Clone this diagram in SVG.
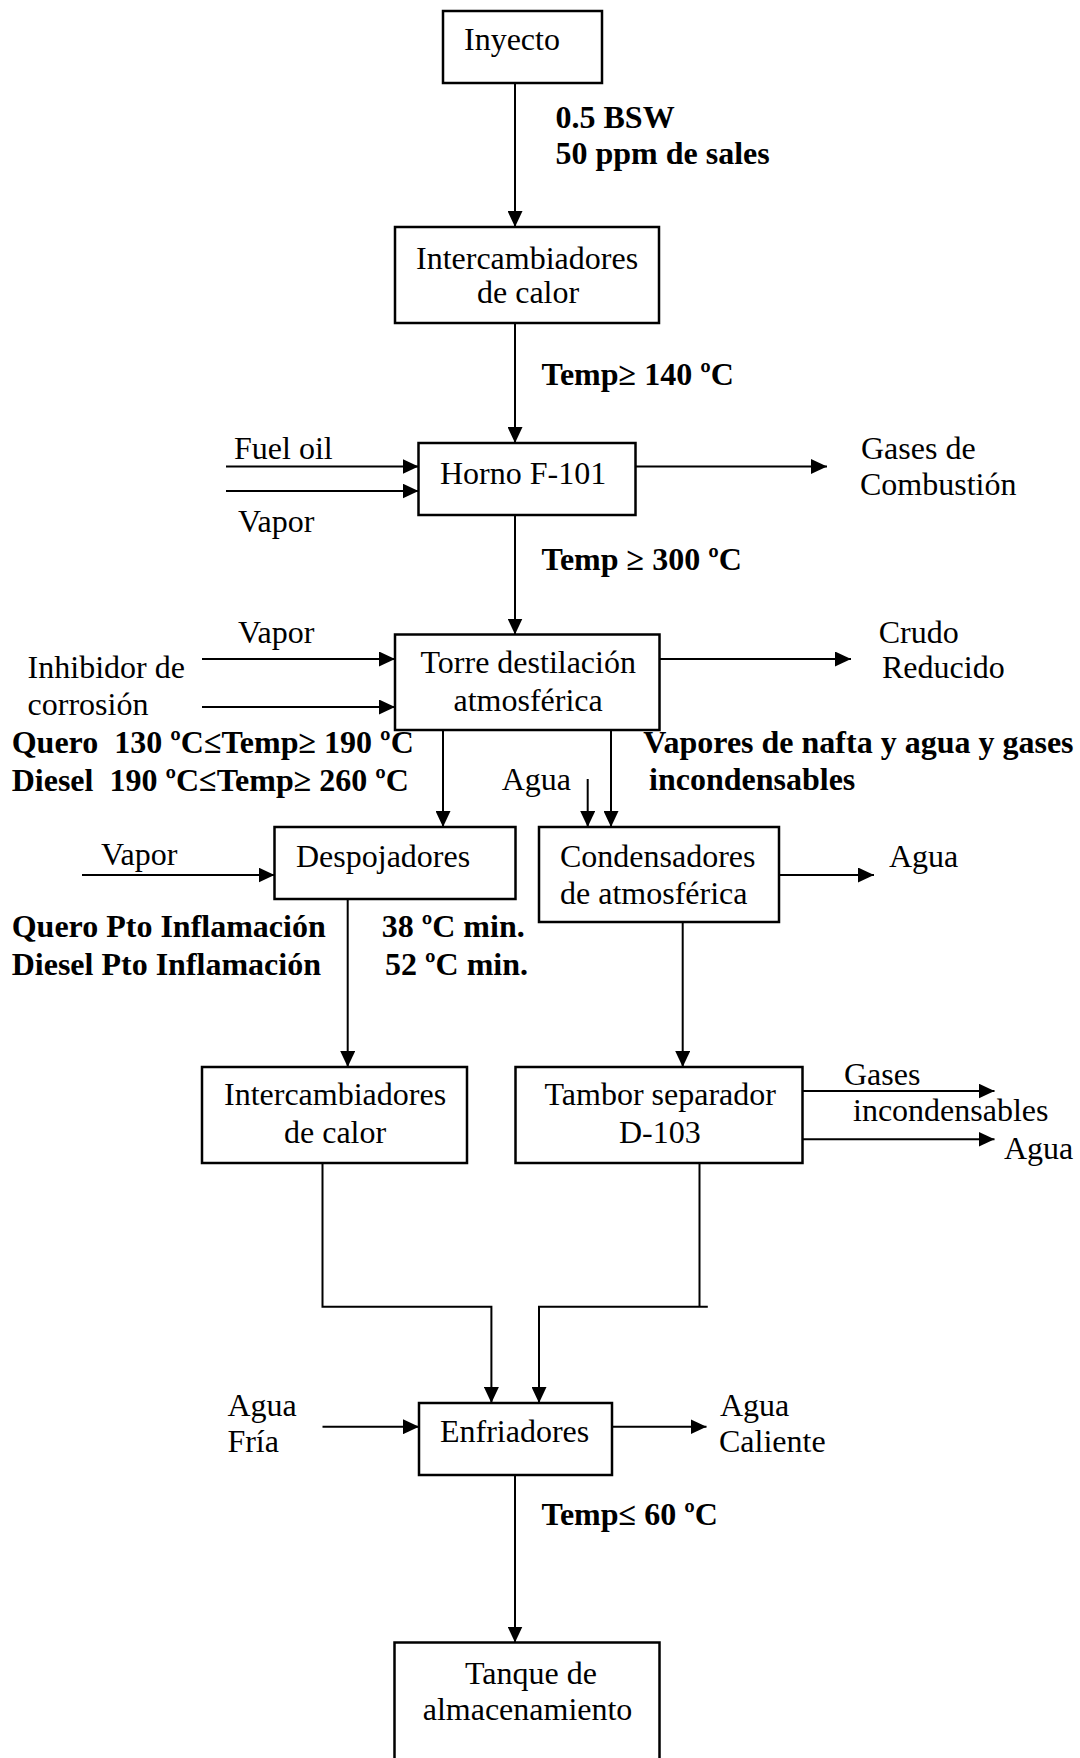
<svg xmlns="http://www.w3.org/2000/svg" width="1080" height="1758" viewBox="0 0 1080 1758">
  <defs>
    <marker id="arrow" markerUnits="userSpaceOnUse" markerWidth="16" markerHeight="15" refX="16" refY="7.5" orient="auto">
      <path d="M0,0 L16,7.5 L0,15 z" fill="#000"/>
    </marker>
    <style>
      .box { fill: #fff; stroke: #000; stroke-width: 2.5; }
      .flow { fill: none; stroke: #000; stroke-width: 2; }
      .arr { fill: none; stroke: #000; stroke-width: 2; marker-end: url(#arrow); }
      text { font-family: "Liberation Serif", "Times New Roman", serif; fill: #000; white-space: pre; }
      .t { font-size: 32px; }
      .b { font-size: 32px; font-weight: bold; }
    </style>
  </defs>
  <rect width="1080" height="1758" fill="#fff"/>

  <!-- connectors -->
  <g id="connectors">
    <line class="arr" x1="515" y1="83" x2="515" y2="227"/>
    <line class="arr" x1="515" y1="323" x2="515" y2="443"/>
    <line class="arr" x1="226" y1="466.5" x2="418.5" y2="466.5"/>
    <line class="arr" x1="226" y1="491" x2="418.5" y2="491"/>
    <line class="arr" x1="635.5" y1="466.5" x2="827" y2="466.5"/>
    <line class="arr" x1="515" y1="515" x2="515" y2="634.5"/>
    <line class="arr" x1="202" y1="659" x2="395" y2="659"/>
    <line class="arr" x1="202" y1="707" x2="395" y2="707"/>
    <line class="arr" x1="659.5" y1="659" x2="851" y2="659"/>
    <line class="arr" x1="443" y1="730" x2="443" y2="827"/>
    <line class="arr" x1="587.7" y1="779" x2="587.7" y2="827"/>
    <line class="arr" x1="611" y1="730" x2="611" y2="827"/>
    <line class="arr" x1="82" y1="875" x2="274.5" y2="875"/>
    <line class="arr" x1="779" y1="875" x2="874" y2="875"/>
    <line class="arr" x1="347.7" y1="899" x2="347.7" y2="1067"/>
    <line class="arr" x1="682.7" y1="922" x2="682.7" y2="1067"/>
    <line class="arr" x1="802.5" y1="1091" x2="994.5" y2="1091"/>
    <line class="arr" x1="802.5" y1="1139.3" x2="994.5" y2="1139.3"/>
    <path class="arr" d="M322.5,1163 V1306.7 H491.4 V1403"/>
    <path class="flow" d="M699.5,1163 V1306.7"/>
    <path class="arr" d="M707.8,1306.7 H539 V1403"/>
    <line class="arr" x1="322.5" y1="1426.7" x2="419" y2="1426.7"/>
    <line class="arr" x1="612" y1="1426.7" x2="706.5" y2="1426.7"/>
    <line class="arr" x1="515" y1="1475" x2="515" y2="1642.5"/>
  </g>

  <!-- process units -->
  <g id="inyecto">
    <rect class="box" x="443" y="11" width="159" height="72"/>
    <text class="t" x="464" y="50">Inyecto</text>
  </g>
  <g id="intercambiadores-1">
    <rect class="box" x="395" y="227" width="264" height="96"/>
    <text class="t" x="416" y="269">Intercambiadores</text>
    <text class="t" x="477" y="303">de calor</text>
  </g>
  <g id="horno">
    <rect class="box" x="418.5" y="443" width="217" height="72"/>
    <text class="t" x="440" y="484">Horno F-101</text>
  </g>
  <g id="torre">
    <rect class="box" x="395" y="634.5" width="264.5" height="95.5"/>
    <text class="t" x="420.5" y="673">Torre destilación</text>
    <text class="t" x="453.5" y="711">atmosférica</text>
  </g>
  <g id="despojadores">
    <rect class="box" x="274.5" y="827" width="241" height="72"/>
    <text class="t" x="296" y="867">Despojadores</text>
  </g>
  <g id="condensadores">
    <rect class="box" x="539" y="827" width="240" height="95"/>
    <text class="t" x="560" y="866.7">Condensadores</text>
    <text class="t" x="560" y="904">de atmosférica</text>
  </g>
  <g id="intercambiadores-2">
    <rect class="box" x="202" y="1067" width="265" height="96"/>
    <text class="t" x="224" y="1105">Intercambiadores</text>
    <text class="t" x="284" y="1143">de calor</text>
  </g>
  <g id="tambor">
    <rect class="box" x="515.5" y="1067" width="287" height="96"/>
    <text class="t" x="544.5" y="1105">Tambor separador</text>
    <text class="t" x="619" y="1143">D-103</text>
  </g>
  <g id="enfriadores">
    <rect class="box" x="419" y="1403" width="193" height="72"/>
    <text class="t" x="440" y="1441.7">Enfriadores</text>
  </g>
  <g id="tanque">
    <rect class="box" x="394.5" y="1642.5" width="265" height="130"/>
    <text class="t" x="465" y="1684">Tanque de</text>
    <text class="t" x="422.7" y="1720">almacenamiento</text>
  </g>

  <!-- stream labels -->
  <g id="stream-labels">
    <text class="t" x="234" y="459">Fuel oil</text>
    <text class="t" x="238" y="531.7">Vapor</text>
    <text class="t" x="861" y="459">Gases de</text>
    <text class="t" x="860" y="495">Combustión</text>
    <text class="t" x="238" y="643.3">Vapor</text>
    <text class="t" x="27.6" y="678">Inhibidor de</text>
    <text class="t" x="27.6" y="715">corrosión</text>
    <text class="t" x="878.7" y="643">Crudo</text>
    <text class="t" x="882" y="678">Reducido</text>
    <text class="t" x="501.7" y="790">Agua</text>
    <text class="t" x="101" y="865">Vapor</text>
    <text class="t" x="889" y="866.7">Agua</text>
    <text class="t" x="844" y="1085">Gases</text>
    <text class="t" x="853" y="1120.7">incondensables</text>
    <text class="t" x="1004" y="1159">Agua</text>
    <text class="t" x="227.4" y="1416">Agua</text>
    <text class="t" x="227.4" y="1451.7">Fría</text>
    <text class="t" x="720" y="1416">Agua</text>
    <text class="t" x="719" y="1451.7">Caliente</text>
  </g>

  <!-- operating conditions -->
  <g id="conditions">
    <text class="b" x="555.5" y="128">0.5 BSW</text>
    <text class="b" x="555.5" y="164">50 ppm de sales</text>
    <text class="b" x="541.5" y="385">Temp≥ 140 ºC</text>
    <text class="b" x="541.5" y="570">Temp ≥ 300 ºC</text>
    <text class="b" x="11.7" y="753.3">Quero  130 ºC≤Temp≥ 190 ºC</text>
    <text class="b" x="11.7" y="790.7">Diesel  190 ºC≤Temp≥ 260 ºC</text>
    <text class="b" x="643.3" y="753.3">Vapores de nafta y agua y gases</text>
    <text class="b" x="649" y="790">incondensables</text>
    <text class="b" x="11.7" y="937.3">Quero Pto Inflamación</text>
    <text class="b" x="11.7" y="975">Diesel Pto Inflamación</text>
    <text class="b" x="381.7" y="937.3">38 ºC min.</text>
    <text class="b" x="385" y="975">52 ºC min.</text>
    <text class="b" x="541.5" y="1525">Temp≤ 60 ºC</text>
  </g>
</svg>
